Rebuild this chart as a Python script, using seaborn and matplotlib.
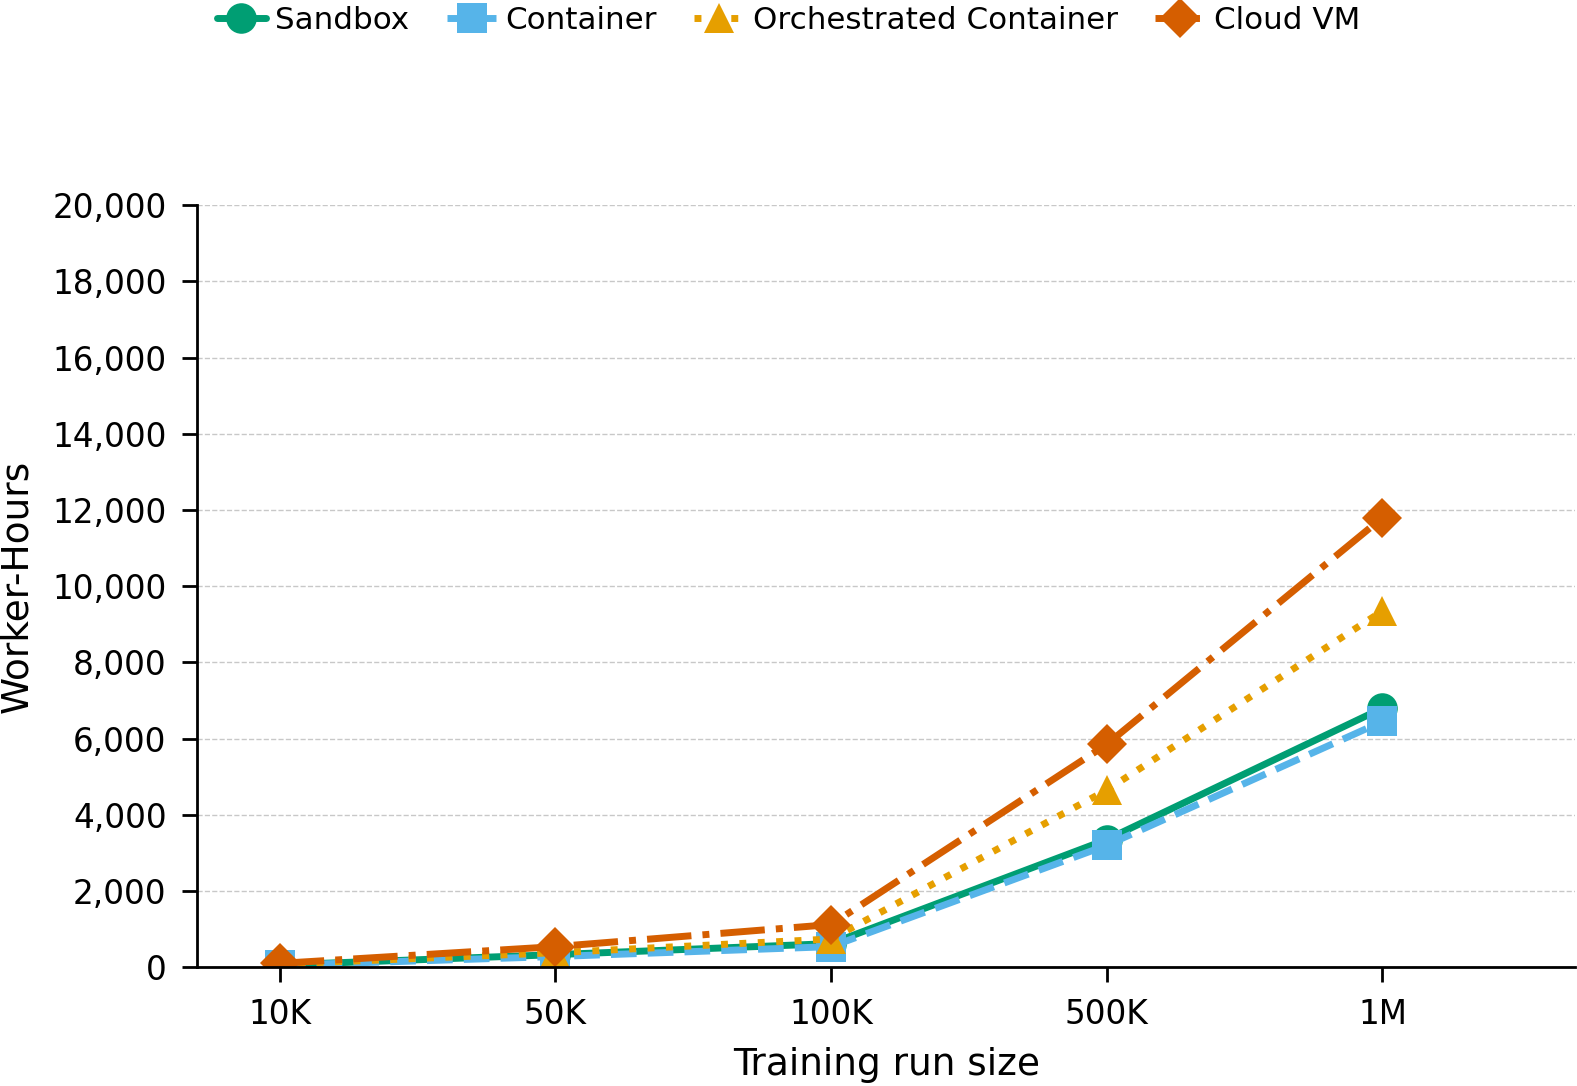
import pandas as pd
import matplotlib.pyplot as plt
import seaborn as sns
from matplotlib.ticker import FuncFormatter

# Chart data
sizes = ['10K', '50K', '100K', '500K', '1M']
sandbox = [60, 330, 620, 3350, 6800]
container = [50, 280, 540, 3200, 6450]
orchestrated = [80, 380, 740, 4650, 9350]
cloud_vm = [100, 540, 1120, 5850, 11800]

series = {
    'Sandbox': sandbox,
    'Container': container,
    'Orchestrated Container': orchestrated,
    'Cloud VM': cloud_vm,
}
colors = {'Sandbox': '#009E73', 'Container': '#56B4E9',
          'Orchestrated Container': '#E69F00', 'Cloud VM': '#D55E00'}
styles = {'Sandbox': ('-', 'o'), 'Container': ('--', 's'),
          'Orchestrated Container': (':', '^'), 'Cloud VM': ('-.', 'D')}

sns.set_theme(style='white')
plt.rcParams['font.family'] = ['DejaVu Sans']
plt.rcParams['text.color'] = 'black'
plt.rcParams['axes.labelcolor'] = 'black'
plt.rcParams['xtick.color'] = 'black'
plt.rcParams['ytick.color'] = 'black'

fig, ax = plt.subplots(figsize=(15.77, 10.86), dpi=100)

for name, vals in series.items():
    df = pd.DataFrame({'size': sizes, 'hours': vals})
    ls, mk = styles[name]
    sns.lineplot(data=df, x='size', y='hours', ax=ax, color=colors[name],
                 linestyle=ls, marker=mk, markersize=22 if mk != 'D' else 20,
                 markeredgewidth=0, linewidth=5, label=name, sort=False)

ax.set_ylim(0, 20000)
ax.set_xlim(-0.3, 4.7)
ax.set_yticks(range(0, 20001, 2000))
ax.yaxis.set_major_formatter(FuncFormatter(lambda v, p: f'{int(v):,}'))
ax.grid(axis='y', linestyle='--', color='#c8c8c8', linewidth=1)
ax.grid(axis='x', visible=False)
ax.set_axisbelow(True)

sns.despine(ax=ax)
for sp in ['left', 'bottom']:
    ax.spines[sp].set_linewidth(2)
    ax.spines[sp].set_color('black')
ax.tick_params(axis='both', which='major', labelsize=23.5, length=11, width=2,
               color='black', left=True, bottom=True, direction='out', pad=11)

ax.set_xlabel('Training run size', fontsize=27, labelpad=12)
ax.set_ylabel('Worker-Hours', fontsize=27, labelpad=12)

ax.legend_.remove()
handles, labels = ax.get_legend_handles_labels()
fig.legend(handles, labels, loc='upper center', bbox_to_anchor=(0.5, 1.02),
           ncol=4, frameon=False, fontsize=22.3, handlelength=1.6,
           handletextpad=0.3, columnspacing=1.2)

fig.subplots_adjust(left=0.125, right=0.999, top=0.811, bottom=0.1094)
fig.savefig('out.png', dpi=100)
